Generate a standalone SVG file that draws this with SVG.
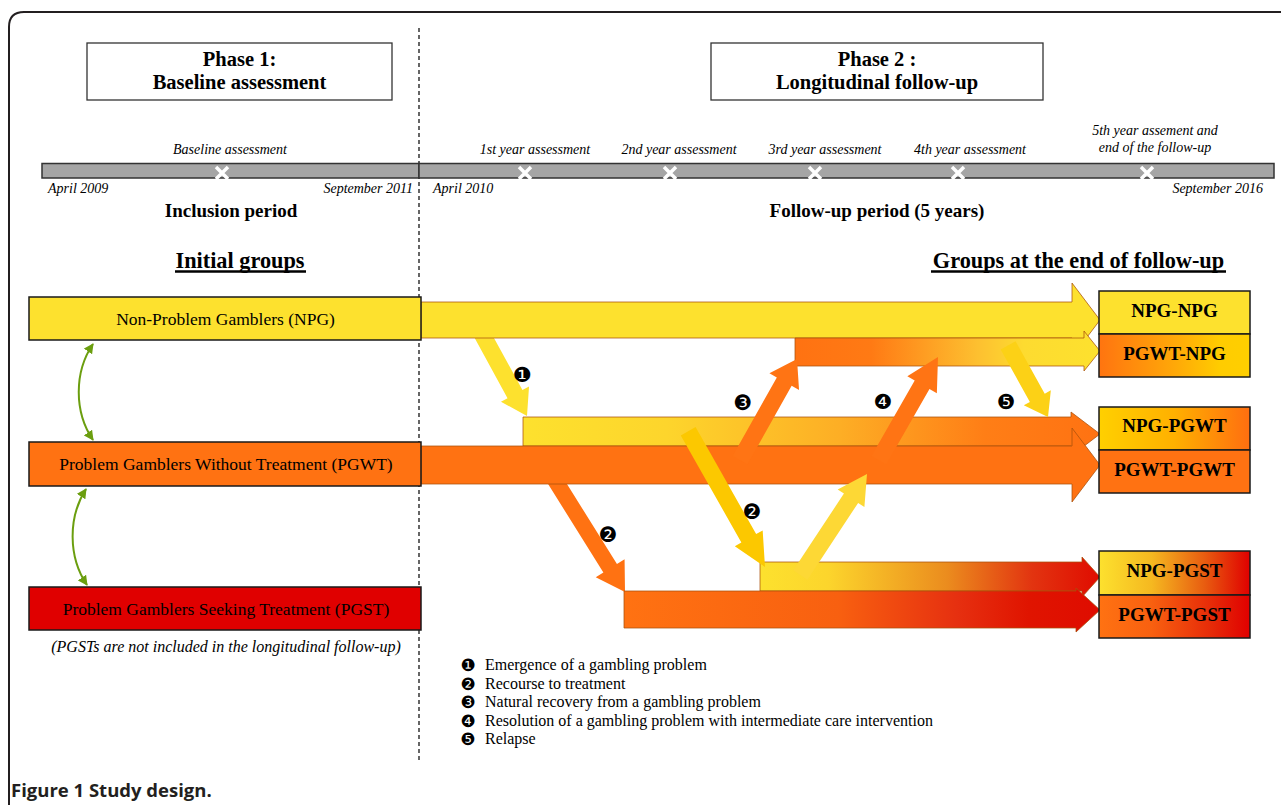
<svg xmlns="http://www.w3.org/2000/svg" width="1281" height="805" viewBox="0 0 1281 805">
<defs>
<style>
text{font-family:"Liberation Serif","Times New Roman",serif;fill:#000}
.ph{font-size:20.5px;font-weight:bold;text-anchor:middle}
.tl{font-size:14px;font-style:italic}
.note{font-size:16px;font-style:italic;text-anchor:middle}
.mid{text-anchor:middle}
.end{text-anchor:end}
.per{font-size:19px;font-weight:bold;text-anchor:middle}
.hdr{font-size:22.3px;font-weight:bold;text-anchor:middle}
.grp{font-size:17.5px;text-anchor:middle}
.res{font-size:19px;font-weight:bold;text-anchor:middle}
.num{font-family:"DejaVu Sans",sans-serif;font-size:21px;text-anchor:middle}
.lnum{font-family:"DejaVu Sans",sans-serif;font-size:17px;text-anchor:middle}
.leg{font-size:16px}
.cap{font-family:"Open Sans","Liberation Sans",sans-serif;font-size:18.5px;font-weight:bold;fill:#231f20}
.bar{stroke:#a8500c;stroke-width:1;stroke-opacity:0.75}
.box{stroke:#1a1a1a;stroke-width:1.5}
.pbox{fill:#fff;stroke:#333;stroke-width:1.3}
.xm{stroke:#fff;stroke-width:3.5}
.tbar{fill:#a5a5a5;stroke:#333;stroke-width:1.5}
.green{fill:none;stroke:#6b9e0f;stroke-width:2;marker-start:url(#gm);marker-end:url(#gm)}
</style>
<marker id="gm" viewBox="0 0 10 10" refX="9" refY="5" markerWidth="5" markerHeight="5" orient="auto-start-reverse" markerUnits="strokeWidth"><path d="M0,0 L10,5 L0,10 z" fill="#6b9e0f"/></marker>
<linearGradient id="gPWN" x1="0" x2="1" y1="0" y2="0"><stop offset="0" stop-color="#ff7212"/><stop offset="0.25" stop-color="#ff7a14"/><stop offset="0.6" stop-color="#fdc030"/><stop offset="0.75" stop-color="#fddb30"/><stop offset="1" stop-color="#fde12e"/></linearGradient>
<linearGradient id="gNPW" x1="0" x2="1" y1="0" y2="0"><stop offset="0" stop-color="#fde12e"/><stop offset="0.25" stop-color="#fdd52c"/><stop offset="0.55" stop-color="#fdae25"/><stop offset="0.8" stop-color="#ff7e16"/><stop offset="1" stop-color="#ff7212"/></linearGradient>
<linearGradient id="gNPS" x1="0" x2="1" y1="0" y2="0"><stop offset="0" stop-color="#fde12e"/><stop offset="0.2" stop-color="#fcd52c"/><stop offset="0.55" stop-color="#eb8c1e"/><stop offset="0.8" stop-color="#e23410"/><stop offset="1" stop-color="#e00c00"/></linearGradient>
<linearGradient id="gPWS" x1="0" x2="1" y1="0" y2="0"><stop offset="0" stop-color="#ff7212"/><stop offset="0.45" stop-color="#f86010"/><stop offset="0.7" stop-color="#e63010"/><stop offset="0.85" stop-color="#e01400"/><stop offset="1" stop-color="#df0c00"/></linearGradient>
<linearGradient id="bPWN" x1="0" x2="1" y1="0" y2="0"><stop offset="0" stop-color="#ff7410"/><stop offset="0.5" stop-color="#ffa808"/><stop offset="0.8" stop-color="#ffcc00"/><stop offset="1" stop-color="#ffcf00"/></linearGradient>
<linearGradient id="bNPW" x1="0" x2="1" y1="0" y2="0"><stop offset="0" stop-color="#ffd000"/><stop offset="0.5" stop-color="#ffb000"/><stop offset="1" stop-color="#ff6e10"/></linearGradient>
<linearGradient id="bNPS" x1="0" x2="1" y1="0" y2="0"><stop offset="0" stop-color="#fde12e"/><stop offset="0.35" stop-color="#f5b820"/><stop offset="0.7" stop-color="#e85c10"/><stop offset="1" stop-color="#e00000"/></linearGradient>
<linearGradient id="bPWS" x1="0" x2="1" y1="0" y2="0"><stop offset="0" stop-color="#ff7212"/><stop offset="0.35" stop-color="#f86010"/><stop offset="0.75" stop-color="#e62a08"/><stop offset="1" stop-color="#e00000"/></linearGradient>
</defs>
<rect width="1281" height="805" fill="#fff"/>
<path d="M9,805 V27 Q9,12 24,12 H1281" fill="none" stroke="#231f20" stroke-width="2"/>
<line x1="419" y1="28" x2="419" y2="762" stroke="#000" stroke-width="1.2" stroke-dasharray="4,3"/>

<g id="phase1"><rect class="pbox" x="87" y="43" width="305" height="57"/><text class="ph" x="239.5" y="66">Phase 1:</text><text class="ph" x="239.5" y="89">Baseline assessment</text></g>
<g id="phase2"><rect class="pbox" x="711" y="43" width="332" height="57"/><text class="ph" x="877" y="66">Phase 2 :</text><text class="ph" x="877" y="89">Longitudinal follow-up</text></g>

<g id="timeline">
<rect class="tbar" x="42" y="163.5" width="377" height="14.5"/>
<rect class="tbar" x="419" y="163.5" width="855" height="14.5"/>
<g class="xm">
<path d="M216,167 L228,179 M228,167 L216,179"/>
<path d="M519,167 L531,179 M531,167 L519,179"/>
<path d="M664,167 L676,179 M676,167 L664,179"/>
<path d="M809,167 L821,179 M821,167 L809,179"/>
<path d="M952,167 L964,179 M964,167 L952,179"/>
<path d="M1141,167 L1153,179 M1153,167 L1141,179"/>
</g>
<text class="tl mid" x="230" y="154">Baseline assessment</text>
<text class="tl mid" x="535" y="154">1st year assessment</text>
<text class="tl mid" x="679" y="154">2nd year assessment</text>
<text class="tl mid" x="825" y="154">3rd year assessment</text>
<text class="tl mid" x="970" y="154">4th year assessment</text>
<text class="tl mid" x="1155" y="135">5th year assement and</text>
<text class="tl mid" x="1155" y="152">end of the follow-up</text>
<text class="tl" x="48" y="193">April 2009</text>
<text class="tl end" x="413" y="193">September 2011</text>
<text class="tl" x="433" y="193">April 2010</text>
<text class="tl end" x="1263" y="193">September 2016</text>
<text class="per" x="231" y="217">Inclusion period</text>
<text class="per" x="877" y="217">Follow-up period (5 years)</text>
</g>

<g id="headers">
<text class="hdr" x="240" y="268">Initial groups</text>
<line x1="175" y1="271.5" x2="306" y2="271.5" stroke="#000" stroke-width="2.5"/>
<text class="hdr" x="1078.5" y="268">Groups at the end of follow-up</text>
<line x1="931" y1="271.5" x2="1226" y2="271.5" stroke="#000" stroke-width="2.5"/>
</g>

<g id="connectors">
<path class="green" d="M93,344 C74,372 74,412 93,440"/>
<path class="green" d="M86,489 C68,517 68,557 87,585"/>
<polygon transform="translate(527,416) rotate(61.3)" points="-98,-8.5 -25,-8.5 -25,-16 0,0 -25,16 -25,8.5 -98,8.5" fill="#fde12e"/>
<polygon transform="translate(625,592) rotate(58)" points="-135,-8 -28,-8 -28,-17 0,0 -28,17 -28,8 -135,8" fill="#ff7212"/>
<polygon class="bar" points="421,302 1072,302 1072,283 1100,320 1072,357 1072,338 421,338" fill="#fde12e"/>
<polygon class="bar" points="795,338 1084,338 1084,331 1100,351 1084,371 1084,366 795,366" fill="url(#gPWN)"/>
<polygon class="bar" points="523,417 1071,417 1071,412 1100,434 1071,456 1071,446 523,446" fill="url(#gNPW)"/>
<polygon class="bar" points="421,446 1072,446 1072,428 1100,465 1072,502 1072,484 421,484" fill="#ff7212"/>
<polygon class="bar" points="760,562 1082,562 1082,557 1100,577 1082,597 1082,591 760,591" fill="url(#gNPS)"/>
<polygon class="bar" points="624,591 1076,591 1076,588 1100,610 1076,632 1076,628 624,628" fill="url(#gPWS)"/>
<polygon transform="translate(765,567) rotate(60.5)" points="-156,-8.5 -33,-8.5 -33,-16 0,0 -33,16 -33,8.5 -156,8.5" fill="#fcc800"/>
<polygon transform="translate(797,359) rotate(-60.6)" points="-116,-8.5 -26,-8.5 -26,-17 0,0 -26,17 -26,8.5 -116,8.5" fill="#ff7414"/>
<polygon transform="translate(867,474) rotate(-56.6)" points="-121,-8.5 -29,-8.5 -29,-16 0,0 -29,16 -29,8.5 -121,8.5" fill="#fdd835"/>
<polygon transform="translate(938,357) rotate(-60.2)" points="-119,-8.5 -32,-8.5 -32,-17 0,0 -32,17 -32,8.5 -119,8.5" fill="#ff7414"/>
<polygon transform="translate(1048,417) rotate(60.9)" points="-82,-8.5 -22,-8.5 -22,-15.5 0,0 -22,15.5 -22,8.5 -82,8.5" fill="#fcd116"/>
<text class="num" x="522" y="381.5">❶</text>
<text class="num" x="608" y="541.5">❷</text>
<text class="num" x="752" y="518.5">❷</text>
<text class="num" x="743" y="409.5">❸</text>
<text class="num" x="883" y="408.5">❹</text>
<text class="num" x="1006" y="408.5">❺</text>
</g>

<g id="npg"><rect class="box" x="29" y="297" width="392" height="43" fill="#fde12e"/><text class="grp" x="225.5" y="325">Non-Problem Gamblers (NPG)</text></g>
<g id="pgwt"><rect class="box" x="29" y="442" width="392" height="44" fill="#ff7212"/><text class="grp" x="226" y="470">Problem Gamblers Without Treatment (PGWT)</text></g>
<g id="pgst"><rect class="box" x="29" y="587" width="392" height="43" fill="#e00000"/><text class="grp" x="226" y="615">Problem Gamblers Seeking Treatment (PGST)</text></g>
<text class="note" x="226" y="652">(PGSTs are not included in the longitudinal follow-up)</text>

<g id="npg-npg"><rect class="box" x="1099" y="291" width="151" height="43" fill="#fde12e"/><text class="res" x="1174.5" y="317">NPG-NPG</text></g>
<g id="pgwt-npg"><rect class="box" x="1099" y="334" width="151" height="43" fill="url(#bPWN)"/><text class="res" x="1174.5" y="360">PGWT-NPG</text></g>
<g id="npg-pgwt"><rect class="box" x="1099" y="407" width="151" height="43" fill="url(#bNPW)"/><text class="res" x="1174.5" y="432">NPG-PGWT</text></g>
<g id="pgwt-pgwt"><rect class="box" x="1099" y="450" width="151" height="43" fill="#ff7212"/><text class="res" x="1174.5" y="476">PGWT-PGWT</text></g>
<g id="npg-pgst"><rect class="box" x="1099" y="551" width="151" height="44" fill="url(#bNPS)"/><text class="res" x="1174.5" y="577">NPG-PGST</text></g>
<g id="pgwt-pgst"><rect class="box" x="1099" y="595" width="151" height="43" fill="url(#bPWS)"/><text class="res" x="1174.5" y="621">PGWT-PGST</text></g>

<g id="legend">
<text class="lnum" x="468" y="671">❶</text><text class="leg" x="485" y="670">Emergence of a gambling problem</text>
<text class="lnum" x="468" y="689.5">❷</text><text class="leg" x="485" y="688.5">Recourse to treatment</text>
<text class="lnum" x="468" y="708">❸</text><text class="leg" x="485" y="707">Natural recovery from a gambling problem</text>
<text class="lnum" x="468" y="726.5">❹</text><text class="leg" x="485" y="725.5">Resolution of a gambling problem with intermediate care intervention</text>
<text class="lnum" x="468" y="745">❺</text><text class="leg" x="485" y="744">Relapse</text>
</g>
<text class="cap" x="11" y="797">Figure 1 Study design.</text>
</svg>
